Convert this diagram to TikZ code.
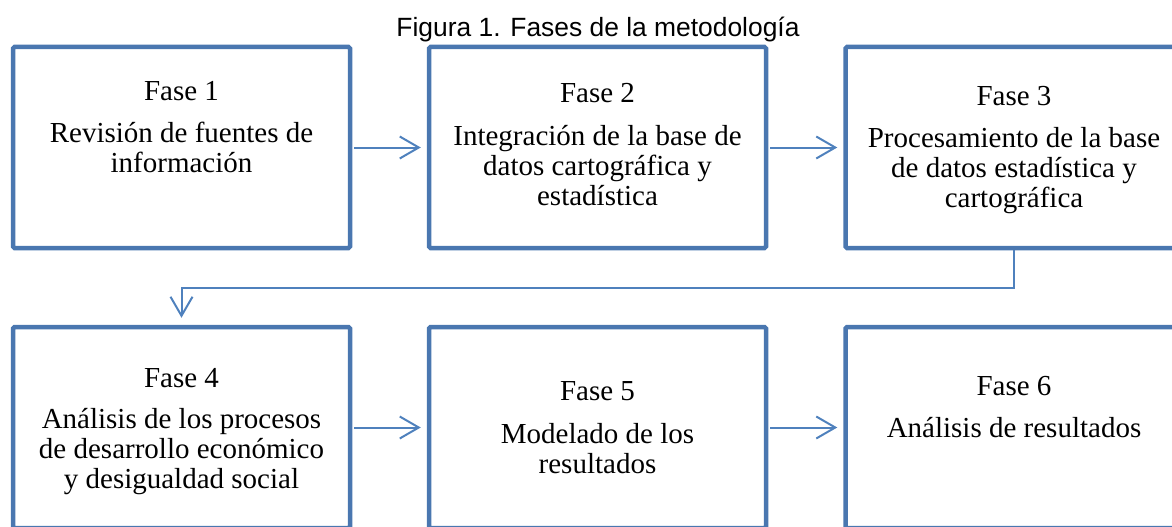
\documentclass[tikz,border=0pt]{standalone}
\usepackage{fontspec}
\setmainfont{Liberation Serif}
\newfontfamily\captionfont{Liberation Sans}
\usetikzlibrary{arrows.meta}
\definecolor{boxblue}{HTML}{4A77B0}
\definecolor{linkblue}{HTML}{4F81BD}
\tikzset{
  fasebox/.style={draw=boxblue, line width=4.5pt, rounded corners=1.5pt,
    minimum width=337pt, minimum height=201pt, inner sep=0pt},
  fasetext/.style={anchor=base, align=center, inner sep=0pt,
    font=\fontsize{29}{30}\selectfont},
  link/.style={draw=linkblue, line width=2pt,
    -{Straight Barb[length=19pt, width=22pt, line width=2pt]}}
}

\begin{document}
\begin{tikzpicture}[x=1pt, y=-1pt]
\useasboundingbox (0,0) rectangle (1172,527);
\clip (0,0) rectangle (1172,527);
% Title
    \node[anchor=base, inner sep=0pt, font=\captionfont\fontsize{26.4}{30}\selectfont]
      (title) at (598,37) {Figura 1. Fases de la metodología};
% Boxes
    \node[fasebox] (b1) at (181.5,147.5) {};
    \node[fasebox] (b2) at (597.5,147.5) {};
    \node[fasebox] (b3) at (1014,147.5) {};
    \node[fasebox] (b4) at (181.5,427.5) {};
    \node[fasebox] (b5) at (597.5,427.5) {};
    \node[fasebox] (b6) at (1014,427.5) {};
% Texts (anchored at the last line)
    \node[fasetext] (t1) at (181.5,172) {Fase 1\\[12pt]Revisión de fuentes de\\información};
    \node[fasetext] (t2) at (597.5,205) {Fase 2\\[13pt]Integración de la base de\\datos cartográfica y\\estadística};
    \node[fasetext] (t3) at (1014,207) {Fase 3\\[12pt]Procesamiento de la base\\de datos estadística y\\cartográfica};
    \node[fasetext] (t4) at (181.5,488) {Fase 4\\[11pt]Análisis de los procesos\\de desarrollo económico\\y desigualdad social};
    \node[fasetext] (t5) at (597.5,473) {Fase 5\\[13pt]Modelado de los\\resultados};
    \node[fasetext] (t6) at (1014,437) {Fase 6\\[12pt]Análisis de resultados};
% Arrows
    \coordinate (bend) at (1014,288);
    \draw[link, shorten <=2pt, shorten >=6pt] (b1.east) -- (b2.west);
    \draw[link, shorten <=2pt, shorten >=6pt] (b2.east) -- (b3.west);
    \draw[link, shorten >=7pt] (b3.south) -- (bend) -| (b4.north);
    \draw[link, shorten <=2pt, shorten >=6pt] (b4.east) -- (b5.west);
    \draw[link, shorten <=2pt, shorten >=6pt] (b5.east) -- (b6.west);
\end{tikzpicture}
\end{document}
